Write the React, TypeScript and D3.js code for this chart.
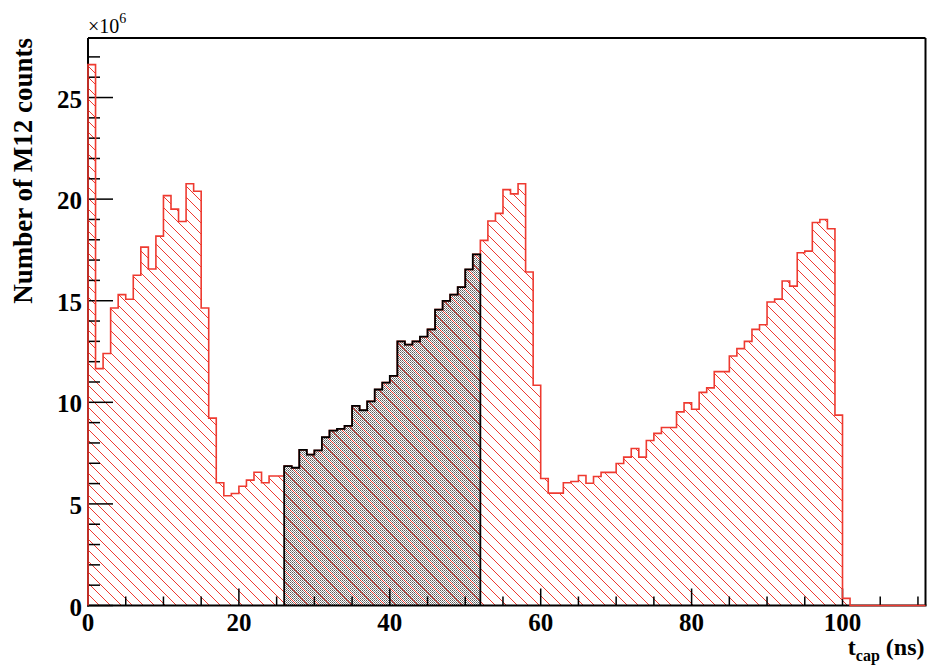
import React from 'react';
import * as d3 from 'd3';

// Capture-time histogram, counts in units of 10^6 per 1 ns bin (bins 0..100)
const counts: number[] = [
  26.62, 11.66, 12.40, 14.64, 15.30, 15.07, 16.25, 17.64, 16.56, 18.18,
  20.17, 19.51, 18.90, 20.76, 20.39, 14.64, 9.22, 6.04, 5.40, 5.51,
  5.87, 6.17, 6.56, 6.04, 6.37, 6.37, 6.86, 6.78, 7.66, 7.43,
  7.63, 8.28, 8.61, 8.69, 8.84, 9.82, 9.61, 10.05, 10.63, 10.97,
  11.30, 13.00, 12.84, 13.00, 13.23, 13.59, 14.56, 14.99, 15.30, 15.67,
  16.54, 17.28, 17.97, 18.92, 19.30, 20.47, 20.26, 20.76, 16.41, 10.84,
  6.25, 5.53, 5.53, 6.04, 6.10, 6.40, 6.02, 6.35, 6.55, 6.55,
  6.99, 7.30, 7.73, 7.30, 8.12, 8.47, 8.76, 8.76, 9.53, 9.97,
  9.66, 10.49, 10.71, 11.51, 11.51, 12.28, 12.64, 13.00, 13.59, 13.82,
  14.94, 15.08, 15.97, 15.72, 17.36, 17.44, 18.85, 19.00, 18.54, 9.37,
  0.35,
];

// Histogram range in ns and the gated window [start, end)
const nBins = 111;
const gateStart = 26;
const gateEnd = 52;

const xMajorTicks = [0, 20, 40, 60, 80, 100];
const yMajorTicks = [0, 5, 10, 15, 20, 25];
const yTitle = 'Number of M12 counts';
const xTitleMain = 't';
const xTitleSub = 'cap';
const xTitleUnit = ' (ns)';

const FONT = "'Liberation Serif', 'Times New Roman', Times, serif";
const RED = '#ee3a30';

export default function App() {
  const W = 928;
  const H = 666;
  const x = d3.scaleLinear().domain([0, nBins]).range([88, 925.5]);
  const y = d3.scaleLinear().domain([0, 27.93]).range([605.5, 38]);

  const full = d3.range(nBins).map((i) => counts[i] ?? 0);

  const stepPoints = (from: number, to: number): [number, number][] => {
    const pts: [number, number][] = [[x(from), y(0)]];
    for (let i = from; i < to; i++) {
      pts.push([x(i), y(full[i])], [x(i + 1), y(full[i])]);
    }
    pts.push([x(to), y(0)]);
    return pts;
  };

  const line = d3.line<[number, number]>();
  const redPath = line(stepPoints(0, nBins)) as string;
  const gatePath = line(stepPoints(gateStart, gateEnd)) as string;

  const yMinor = d3.range(0, 28, 1).filter((v) => v % 5 !== 0);
  const xMinor = d3.range(0, nBins, 5).filter((v) => v % 20 !== 0);

  const x0 = x(0);
  const x1 = x(nBins);
  const yb = y(0);
  const yt = y.range()[1];

  return (
    <svg
      width={W}
      height={H}
      viewBox={`0 0 ${W} ${H}`}
      style={{ position: 'absolute', left: 0, top: 0, background: '#fff' }}
    >
      <defs>
        <pattern id="hatch" patternUnits="userSpaceOnUse" width={11} height={11}>
          <path
            d="M-1,-1 L12,12 M-1,10 L1,12 M10,-1 L12,1"
            stroke={RED}
            strokeWidth={1}
            fill="none"
          />
        </pattern>
        <pattern id="dots" patternUnits="userSpaceOnUse" width={2} height={2}>
          <rect x={0} y={0} width={1} height={1} fill="#5a5a5a" />
          <rect x={1} y={1} width={1} height={1} fill="#8a8a8a" />
        </pattern>
      </defs>

      <rect x={0} y={0} width={W} height={H} fill="#fff" />

      {/* gated window: dotted fill underneath the hatching */}
      <path d={gatePath + 'Z'} fill="url(#dots)" stroke="none" />
      {/* full spectrum: hatched fill */}
      <path d={redPath + 'Z'} fill="url(#hatch)" stroke="none" />

      {/* frame */}
      <line x1={x0} x2={x1} y1={yt} y2={yt} stroke="#000" strokeWidth={2} />
      <line x1={x1} x2={x1} y1={yt} y2={yb} stroke="#000" strokeWidth={2} />
      <line x1={x0} x2={x0} y1={yt} y2={yb + 1} stroke="#000" strokeWidth={2} />
      <line x1={x0 - 1} x2={x1 + 1} y1={yb} y2={yb} stroke="#000" strokeWidth={2} />

      {/* y ticks */}
      {yMajorTicks.map((v) => (
        <line key={`ym${v}`} x1={x0} x2={x0 + 25} y1={y(v)} y2={y(v)} stroke="#000" strokeWidth={1.5} />
      ))}
      {yMinor.map((v) => (
        <line key={`yn${v}`} x1={x0} x2={x0 + 12} y1={y(v)} y2={y(v)} stroke="#000" strokeWidth={1.5} />
      ))}
      {/* x ticks */}
      {xMajorTicks.map((v) => (
        <line key={`xm${v}`} x1={x(v)} x2={x(v)} y1={yb} y2={yb - 17} stroke="#000" strokeWidth={1.5} />
      ))}
      {xMinor.map((v) => (
        <line key={`xn${v}`} x1={x(v)} x2={x(v)} y1={yb} y2={yb - 9} stroke="#000" strokeWidth={1.5} />
      ))}

      {/* outlines */}
      <path d={redPath} fill="none" stroke={RED} strokeWidth={1.6} />
      <path d={gatePath} fill="none" stroke="#000" strokeWidth={1.8} />

      {/* tick labels */}
      <g fontFamily={FONT} fontWeight="bold" fontSize={25} fill="#000">
        {yMajorTicks.map((v) => (
          <text key={`yl${v}`} x={x0 - 6} y={y(v) + 10} textAnchor="end">
            {v}
          </text>
        ))}
        {xMajorTicks.map((v) => (
          <text key={`xl${v}`} x={x(v)} y={631} textAnchor="middle">
            {v}
          </text>
        ))}
      </g>

      {/* exponent */}
      <text x={x0} y={33} fontFamily={FONT} fontSize={20} fill="#000">
        ×10
        <tspan fontSize={14} dy={-10}>6</tspan>
      </text>

      {/* axis titles */}
      <text
        x={x1 - 1}
        y={655}
        textAnchor="end"
        fontFamily={FONT}
        fontWeight="bold"
        fontSize={24}
        fill="#000"
      >
        {xTitleMain}
        <tspan fontSize={16} dy={6}>{xTitleSub}</tspan>
        <tspan dy={-6}>{xTitleUnit}</tspan>
      </text>
      <text
        transform={`translate(32, ${yt}) rotate(-90)`}
        textAnchor="end"
        fontFamily={FONT}
        fontWeight="bold"
        fontSize={27}
        fill="#000"
      >
        {yTitle}
      </text>
    </svg>
  );
}
